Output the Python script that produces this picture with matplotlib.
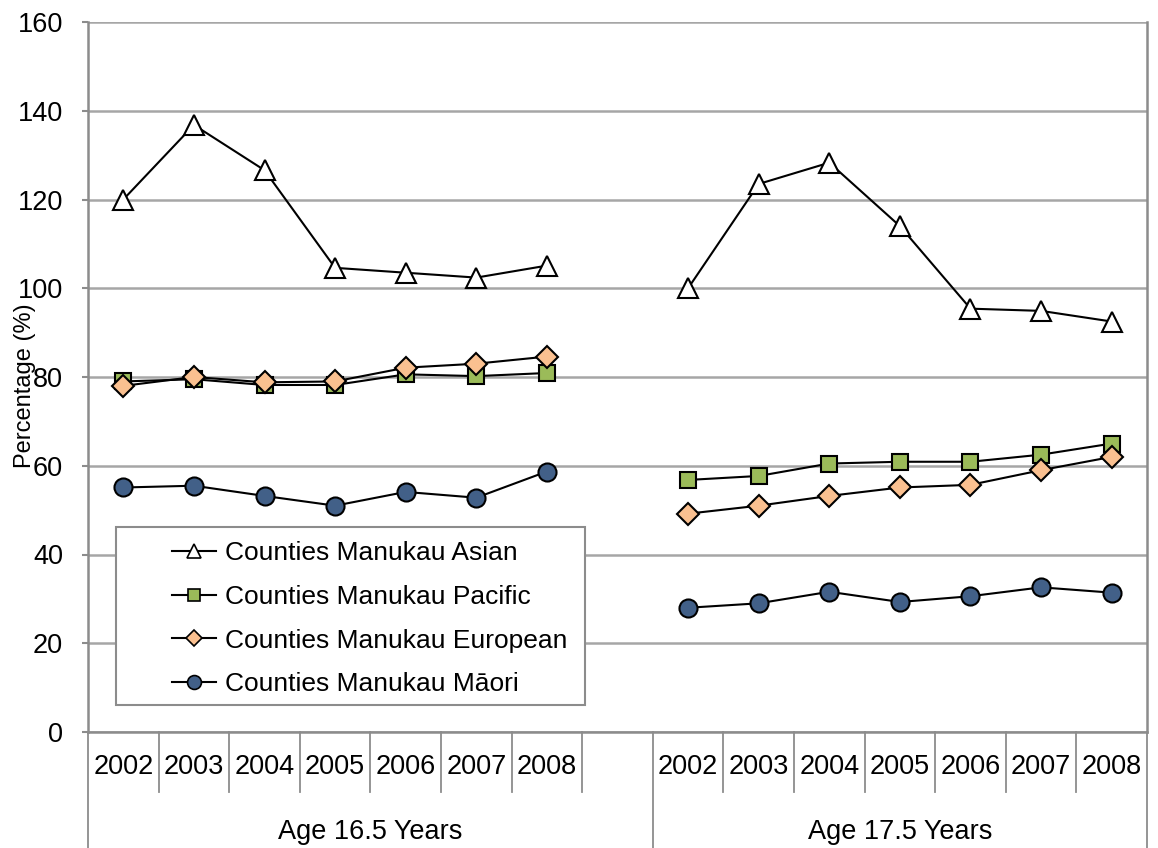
import matplotlib
matplotlib.use("Agg")
import matplotlib.pyplot as plt
import matplotlib.transforms as mtransforms
from matplotlib.patches import Rectangle
import numpy as np

plt.rcParams['font.family'] = ['Liberation Sans', 'DejaVu Sans']

# categories
years = ["2002", "2003", "2004", "2005", "2006", "2007", "2008"]
groups = ["Age 16.5 Years", "Age 17.5 Years"]

# values, age 16.5 then age 17.5
asian_165 = [120.0, 136.8, 126.6, 104.6, 103.5, 102.4, 105.1]
asian_175 = [100.0, 123.5, 128.3, 114.0, 95.4, 94.9, 92.5]
pacific_165 = [79.0, 79.5, 78.2, 78.2, 80.6, 80.2, 80.9]
pacific_175 = [56.8, 57.7, 60.5, 60.9, 60.9, 62.5, 65.0]
european_165 = [78.0, 80.0, 78.8, 79.0, 82.1, 83.0, 84.6]
european_175 = [49.2, 51.0, 53.2, 55.1, 55.7, 59.0, 62.0]
maori_165 = [55.1, 55.5, 53.2, 51.0, 54.1, 52.8, 58.7]
maori_175 = [28.0, 29.0, 31.6, 29.3, 30.6, 32.6, 31.4]

series = [
    ("Counties Manukau Asian", asian_165, asian_175, "^", "white", 15),
    ("Counties Manukau Pacific", pacific_165, pacific_175, "s", "#9BBB59", 11.5),
    ("Counties Manukau European", european_165, european_175, "D", "#FAC090", 11),
    ("Counties Manukau Māori", maori_165, maori_175, "o", "#426088", 13),
]

GRID = "#A6A6A6"
AXC = "#8C8C8C"
FS = 19.5

fig = plt.figure(figsize=(11.58, 8.48), dpi=100)
W, H = 1158, 848
ax = fig.add_axes([88 / W, 1 - 732 / H, (1147 - 88) / W, (732 - 22) / H])

n_years = len(years)
x_left = np.arange(n_years)
x_right = np.arange(n_years) + n_years + 1
n_slots = 2 * n_years + 1

handles = []
for name, v1, v2, mk, fc, ms in series:
    for xs, vals in ((x_left, v1), (x_right, v2)):
        line, = ax.plot(xs, vals, color="black", lw=1.5, marker=mk, ms=ms,
                        mfc=fc, mec="black", mew=1.5, zorder=3)
    handles.append((line, name))

ax.set_xlim(-0.5, n_slots - 0.5)
ax.set_ylim(0, 160)
ax.set_yticks(np.arange(0, 161, 20))
ax.yaxis.grid(True, color=GRID, lw=1.8)
ax.set_axisbelow(True)
ax.set_xticks([])
ax.tick_params(axis="y", length=4.5, width=1.5, color=AXC, labelsize=FS, pad=13.5)
ax.spines["top"].set_visible(False)
for side in ["left", "right", "bottom"]:
    ax.spines[side].set_color(AXC)
    ax.spines[side].set_linewidth(1.8)

# category axis: year row and group row below the plot
trans = mtransforms.blended_transform_factory(ax.transData, ax.transAxes)
year_depth = -60 / 710
full_depth = -116 / 710
for k in range(n_slots + 1):
    b = k - 0.5
    depth = full_depth if k in (0, n_years + 1, n_slots) else year_depth
    ax.plot([b, b], [0, depth], color=AXC, lw=1.3, transform=trans, clip_on=False)
for xs in (x_left, x_right):
    for x, yr in zip(xs, years):
        ax.text(x, -35 / 710, yr, transform=trans, ha="center", va="center", fontsize=FS)
ax.text(n_years / 2, -100 / 710, groups[0], transform=trans, ha="center", va="center", fontsize=FS)
ax.text(n_years + 1 + (n_years - 1) / 2, -100 / 710, groups[1], transform=trans,
        ha="center", va="center", fontsize=FS)

fig.text(25 / W, 1 - 386 / H, "Percentage (%)", rotation=90, ha="center", va="center", fontsize=17)

# legend with its own frame
fig.patches.append(Rectangle((116 / W, 1 - 705 / H), (585 - 116) / W, (705 - 527) / H,
                             transform=fig.transFigure, facecolor="white", edgecolor=AXC,
                             lw=1.5, zorder=4))
leg = fig.legend([h for h, _ in handles], [n for _, n in handles],
                 loc="upper left", bbox_to_anchor=(172 / W, 1 - 541 / H),
                 frameon=False, fontsize=19, handlelength=1.65, handletextpad=0.35,
                 labelspacing=0.75, borderaxespad=0, borderpad=0)
leg.set_zorder(5)
for h, ms in zip(leg.legend_handles, [10, 9, 8, 10]):
    h.set_markersize(ms)
    h.set_markeredgewidth(1.2)

fig.savefig("out.png", dpi=100)
